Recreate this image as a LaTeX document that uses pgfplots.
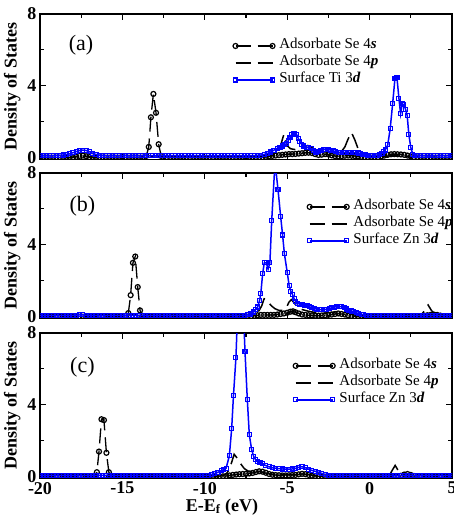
\documentclass[border=0pt]{standalone}
\usepackage{fontspec}
\setmainfont{Liberation Serif}
\usepackage{pgfplots}
\pgfplotsset{compat=1.18}
\pgfplotsset{
  dos/.style={
    scale only axis, width=412pt, height=145.5pt,
    xmin=-20, xmax=5, ymin=-0.1, ymax=8,
    xtick={-20,-15,-10,-5,0,5},
    minor xtick={-17.5,-12.5,-7.5,-2.5,2.5},
    ytick={0,4,8}, yticklabels={0,4,8},
    minor ytick={2,6},
    tick align=inside,
    major tick length=6pt, minor tick length=4pt,
    tick style={black, line width=1.1pt},
    axis line style={line width=1.6pt},
    tick label style={font=\fontsize{18}{18}\selectfont\bfseries},
    ylabel={Density of States},
    ylabel style={font=\fontsize{18}{18}\selectfont\bfseries},
    clip marker paths=true,
    legend style={draw=none, fill=none, inner sep=0pt, font=\fontsize{15}{15}\selectfont, anchor=north west,
      nodes={inner sep=1pt, text height=10.5pt, text depth=4.5pt}},
    legend cell align=left,
    legend image code/.code={\draw[##1] plot coordinates {(0pt,0pt) (37pt,0pt)}; \path (42pt,0pt);},
  },
  ses/.style={black, line width=1.3pt, dash pattern=on 15pt off 7pt, mark=o, mark size=2.5pt, mark options={solid, line width=1.2pt}},
  sep/.style={black, line width=1.5pt, dash pattern=on 15pt off 7pt},
  znd/.style={blue, line width=1.5pt, mark=square, mark size=2pt, mark options={solid, line width=1.1pt}},
}
\begin{document}
\begin{tikzpicture}
%%%%%%%%%%%%%%%%%%%% (a)
\begin{axis}[dos, at={(0pt,0pt)}, anchor=north west, xticklabels={},
  legend style={at={(0.468,0.840)}}]
\addplot[ses] coordinates {(-20,0)(-19.8,0)(-19.6,0)(-19.4,0)(-19.2,0)(-19,0)(-18.8,0)(-18.6,0)(-18.4,0)(-18.2,0)(-18,0.02)(-17.8,0.05)(-17.6,0.1)(-17.4,0.12)(-17.2,0.08)(-17,0.03)(-16.8,0)(-16.6,0)(-16.4,0)(-16.2,0)(-16,0)(-15.8,0)(-15.6,0)(-15.4,0)(-15.2,0)(-15,0)(-14.8,0)(-14.6,0)(-14.4,0)(-14.2,0)(-14,0)(-13.8,0)(-13.67,0.02)(-13.55,0.1)(-13.4,0.6)(-13.27,2.25)(-13.12,3.55)(-12.96,2.5)(-12.8,0.75)(-12.65,0.1)(-12.5,0.02)(-12.3,0)(-12.1,0)(-11.9,0)(-11.7,0)(-11.5,0)(-11.3,0)(-11.1,0)(-10.9,0)(-10.7,0)(-10.5,0)(-10.3,0)(-10.1,0)(-9.9,0)(-9.7,0)(-9.5,0)(-9.3,0)(-9.1,0)(-8.9,0)(-8.7,0)(-8.5,0)(-8.3,0)(-8.1,0)(-7.9,0)(-7.7,0)(-7.5,0)(-7.3,0)(-7.1,0)(-6.9,0)(-6.7,0.01)(-6.5,0.03)(-6.3,0.05)(-6.1,0.08)(-5.9,0.1)(-5.7,0.12)(-5.5,0.14)(-5.3,0.16)(-5.1,0.18)(-4.9,0.2)(-4.7,0.2)(-4.5,0.21)(-4.3,0.23)(-4.1,0.25)(-3.9,0.27)(-3.7,0.28)(-3.5,0.26)(-3.3,0.2)(-3.1,0.15)(-2.9,0.17)(-2.7,0.2)(-2.5,0.18)(-2.3,0.13)(-2.1,0.09)(-1.9,0.08)(-1.7,0.09)(-1.5,0.11)(-1.3,0.12)(-1.1,0.11)(-0.9,0.09)(-0.7,0.07)(-0.5,0.05)(-0.3,0.03)(-0.1,0.01)(0.1,0)(0.3,0.01)(0.5,0.03)(0.7,0.07)(0.9,0.12)(1.1,0.16)(1.3,0.19)(1.5,0.2)(1.7,0.19)(1.9,0.18)(2.1,0.16)(2.3,0.12)(2.5,0.07)(2.7,0.03)(2.9,0.01)(3.1,0)(3.3,0)(3.5,0)(3.7,0)(3.9,0)(4.1,0)(4.3,0)(4.5,0)(4.7,0)(4.9,0)(5,0)};
\addplot[sep] coordinates {(-20,0.02)(-18.2,0.02)(-17.7,0.07)(-17.4,0.1)(-17.1,0.06)(-16.6,0.02)(-13.8,0.02)(-13.3,0.06)(-12.8,0.02)(-6.6,0.02)(-6.2,0.06)(-5.85,0.15)(-5.6,0.3)(-5.42,0.6)(-5.3,1.0)(-5.2,1.3)(-5.1,0.95)(-4.98,0.65)(-4.8,0.5)(-4.5,0.45)(-4.2,0.5)(-3.95,0.62)(-3.75,0.68)(-3.55,0.6)(-3.35,0.45)(-3.1,0.3)(-2.8,0.35)(-2.5,0.3)(-2.2,0.22)(-1.9,0.25)(-1.7,0.35)(-1.5,0.6)(-1.3,1.05)(-1.1,1.4)(-0.9,1.0)(-0.7,0.5)(-0.5,0.25)(-0.3,0.12)(0,0.05)(0.6,0.05)(1.2,0.1)(1.8,0.12)(2.4,0.08)(3,0.03)(5,0.02)};
\addplot[znd] coordinates {(-20,0.12)(-19.8,0.12)(-19.6,0.12)(-19.4,0.12)(-19.2,0.12)(-19,0.12)(-18.8,0.13)(-18.6,0.15)(-18.4,0.18)(-18.2,0.22)(-18,0.28)(-17.8,0.34)(-17.6,0.4)(-17.4,0.42)(-17.2,0.4)(-17,0.33)(-16.8,0.25)(-16.6,0.18)(-16.4,0.14)(-16.2,0.12)(-16,0.12)(-15.8,0.12)(-15.6,0.12)(-15.4,0.12)(-15.2,0.12)(-15,0.12)(-14.8,0.12)(-14.6,0.12)(-14.4,0.12)(-14.2,0.12)(-14,0.12)(-13.8,0.12)(-13.6,0.12)(-13.4,0.12)(-13.2,0.12)(-13,0.12)(-12.8,0.12)(-12.6,0.12)(-12.4,0.12)(-12.2,0.12)(-12,0.12)(-11.8,0.12)(-11.6,0.12)(-11.4,0.12)(-11.2,0.12)(-11,0.12)(-10.8,0.12)(-10.6,0.12)(-10.4,0.12)(-10.2,0.12)(-10,0.12)(-9.8,0.12)(-9.6,0.12)(-9.4,0.12)(-9.2,0.12)(-9,0.12)(-8.8,0.12)(-8.6,0.12)(-8.4,0.12)(-8.2,0.12)(-8,0.12)(-7.8,0.12)(-7.6,0.12)(-7.4,0.12)(-7.2,0.12)(-7,0.12)(-6.8,0.13)(-6.6,0.14)(-6.4,0.18)(-6.2,0.24)(-6,0.32)(-5.8,0.42)(-5.6,0.52)(-5.44,0.58)(-5.3,0.65)(-5.16,0.72)(-5.03,0.78)(-4.93,0.97)(-4.83,1.1)(-4.73,1.3)(-4.63,1.36)(-4.53,1.36)(-4.43,1.3)(-4.33,1.08)(-4.23,0.9)(-4.13,0.75)(-4,0.65)(-3.85,0.58)(-3.7,0.55)(-3.55,0.5)(-3.4,0.4)(-3.25,0.32)(-3.1,0.35)(-2.95,0.42)(-2.8,0.47)(-2.65,0.48)(-2.5,0.46)(-2.35,0.42)(-2.2,0.38)(-2.05,0.33)(-1.9,0.3)(-1.75,0.3)(-1.6,0.3)(-1.45,0.3)(-1.3,0.3)(-1.15,0.3)(-1,0.29)(-0.85,0.28)(-0.7,0.26)(-0.55,0.24)(-0.4,0.2)(-0.25,0.16)(-0.1,0.13)(0.05,0.12)(0.2,0.12)(0.35,0.12)(0.5,0.14)(0.62,0.18)(0.75,0.25)(0.85,0.33)(0.95,0.43)(1.1,0.71)(1.25,1.62)(1.4,3.03)(1.54,4.43)(1.66,4.45)(1.78,3.3)(1.88,2.45)(1.98,3)(2.08,2.95)(2.18,2.7)(2.28,2.35)(2.38,1.3)(2.5,0.56)(2.62,0.2)(2.75,0.13)(2.9,0.12)(3.1,0.12)(3.3,0.12)(3.5,0.12)(3.7,0.12)(3.9,0.12)(4.1,0.12)(4.3,0.12)(4.5,0.12)(4.7,0.12)(4.9,0.12)(5,0.12)};
\legend{Adsorbate Se 4\textbf{\textit{s}}, Adsorbate Se 4\textbf{\textit{p}}, Surface Ti 3\textbf{\textit{d}}}
\node[font=\fontsize{22}{22}\selectfont] at (rel axis cs:0.0995,0.787) {(a)};
\end{axis}
%%%%%%%%%%%%%%%%%%%% (b)
\begin{axis}[dos, at={(0pt,-159pt)}, anchor=north west, xticklabels={},
  legend style={at={(0.648,0.827)}}]
\addplot[ses] coordinates {(-20,0)(-19.8,0)(-19.6,0)(-19.4,0)(-19.2,0)(-19,0)(-18.8,0)(-18.6,0)(-18.4,0)(-18.2,0)(-18,0)(-17.8,0)(-17.6,0)(-17.4,0)(-17.2,0)(-17,0)(-16.8,0)(-16.6,0)(-16.4,0)(-16.2,0)(-16,0)(-15.8,0)(-15.6,0)(-15.4,0)(-15.2,0)(-15,0)(-14.78,0.05)(-14.64,0.2)(-14.5,1.2)(-14.36,3)(-14.22,3.35)(-14.07,1.65)(-13.93,0.35)(-13.79,0.05)(-13.6,0)(-13.4,0)(-13.2,0)(-13,0)(-12.8,0)(-12.6,0)(-12.4,0)(-12.2,0)(-12,0)(-11.8,0)(-11.6,0)(-11.4,0)(-11.2,0)(-11,0)(-10.8,0)(-10.6,0)(-10.4,0)(-10.2,0)(-10,0)(-9.8,0)(-9.6,0)(-9.4,0)(-9.2,0)(-9,0)(-8.8,0)(-8.6,0)(-8.4,0)(-8.2,0)(-8,0)(-7.8,0)(-7.6,0)(-7.4,0)(-7.2,0.02)(-7,0.05)(-6.8,0.08)(-6.6,0.1)(-6.4,0.1)(-6.2,0.1)(-6,0.1)(-5.8,0.1)(-5.6,0.12)(-5.4,0.15)(-5.2,0.18)(-5,0.22)(-4.8,0.28)(-4.65,0.3)(-4.5,0.25)(-4.3,0.18)(-4.1,0.12)(-3.9,0.1)(-3.7,0.08)(-3.5,0.07)(-3.3,0.06)(-3.1,0.06)(-2.9,0.07)(-2.7,0.08)(-2.5,0.1)(-2.3,0.12)(-2.1,0.15)(-1.9,0.18)(-1.7,0.15)(-1.5,0.12)(-1.3,0.08)(-1.1,0.05)(-0.9,0.03)(-0.7,0.01)(-0.5,0)(-0.3,0)(-0.1,0)(0.1,0)(0.3,0)(0.5,0)(0.7,0)(0.9,0)(1.1,0)(1.3,0)(1.5,0)(1.7,0)(1.9,0)(2.1,0)(2.3,0)(2.5,0)(2.7,0)(2.9,0)(3.1,0.03)(3.3,0.06)(3.5,0.08)(3.7,0.1)(3.9,0.12)(4.1,0.1)(4.3,0.06)(4.5,0.03)(4.7,0)(4.9,0)(5,0)};
\addplot[sep] coordinates {(-20,0.02)(-15,0.02)(-14.5,0.08)(-14.25,0.12)(-14,0.05)(-13.6,0.02)(-7.4,0.02)(-7.1,0.08)(-6.85,0.2)(-6.7,0.35)(-6.55,0.6)(-6.4,1)(-6.25,0.95)(-6.1,0.75)(-5.95,0.6)(-5.75,0.45)(-5.5,0.35)(-5.25,0.35)(-5.05,0.5)(-4.9,0.8)(-4.75,0.95)(-4.6,0.8)(-4.4,0.55)(-4.1,0.4)(-3.7,0.3)(-3.2,0.22)(-2.7,0.2)(-2.2,0.25)(-1.8,0.3)(-1.4,0.22)(-1,0.12)(-0.6,0.05)(0,0.02)(2.8,0.03)(3.15,0.12)(3.35,0.35)(3.55,0.65)(3.75,0.35)(3.95,0.15)(4.3,0.12)(4.7,0.05)(5,0.03)};
\addplot[znd] coordinates {(-20,0.08)(-19.8,0.08)(-19.6,0.08)(-19.4,0.08)(-19.2,0.08)(-19,0.08)(-18.8,0.08)(-18.6,0.08)(-18.4,0.08)(-18.2,0.08)(-18,0.08)(-17.8,0.09)(-17.6,0.1)(-17.4,0.1)(-17.2,0.09)(-17,0.08)(-16.8,0.08)(-16.6,0.08)(-16.4,0.08)(-16.2,0.08)(-16,0.08)(-15.8,0.08)(-15.6,0.08)(-15.4,0.08)(-15.2,0.08)(-15,0.08)(-14.8,0.08)(-14.6,0.08)(-14.4,0.08)(-14.2,0.08)(-14,0.08)(-13.8,0.08)(-13.6,0.08)(-13.4,0.08)(-13.2,0.08)(-13,0.08)(-12.8,0.08)(-12.6,0.08)(-12.4,0.08)(-12.2,0.08)(-12,0.08)(-11.8,0.08)(-11.6,0.08)(-11.4,0.08)(-11.2,0.08)(-11,0.08)(-10.8,0.08)(-10.6,0.08)(-10.4,0.08)(-10.2,0.08)(-10,0.08)(-9.8,0.08)(-9.6,0.08)(-9.4,0.08)(-9.2,0.08)(-9,0.08)(-8.8,0.08)(-8.6,0.08)(-8.4,0.08)(-8.2,0.08)(-8,0.08)(-7.8,0.08)(-7.6,0.08)(-7.4,0.1)(-7.2,0.15)(-7.06,0.26)(-6.92,0.4)(-6.79,0.54)(-6.68,0.9)(-6.6,1.3)(-6.49,2.4)(-6.39,3)(-6.27,3)(-6.16,2.65)(-6.05,3)(-5.94,5.35)(-5.74,8.6)(-5.56,7.1)(-5.4,5.6)(-5.28,4.55)(-5.17,3.5)(-5,2.48)(-4.88,1.72)(-4.78,1.42)(-4.68,1.24)(-4.58,1)(-4.48,0.85)(-4.38,0.75)(-4.25,0.7)(-4.1,0.66)(-3.95,0.62)(-3.8,0.6)(-3.65,0.55)(-3.5,0.5)(-3.35,0.45)(-3.2,0.42)(-3.05,0.4)(-2.9,0.4)(-2.75,0.4)(-2.6,0.42)(-2.45,0.45)(-2.3,0.5)(-2.15,0.53)(-2,0.56)(-1.85,0.58)(-1.7,0.55)(-1.55,0.5)(-1.4,0.43)(-1.25,0.37)(-1.1,0.32)(-0.95,0.27)(-0.8,0.22)(-0.65,0.17)(-0.5,0.13)(-0.35,0.1)(-0.2,0.08)(0,0.08)(0.2,0.08)(0.4,0.08)(0.6,0.08)(0.8,0.08)(1,0.08)(1.2,0.08)(1.4,0.08)(1.6,0.08)(1.8,0.08)(2,0.08)(2.2,0.08)(2.4,0.08)(2.6,0.08)(2.8,0.08)(3,0.08)(3.2,0.08)(3.4,0.08)(3.6,0.08)(3.8,0.08)(4,0.08)(4.2,0.08)(4.4,0.08)(4.6,0.08)(4.8,0.08)(5,0.08)};
\legend{Adsorbate Se 4\textbf{\textit{s}}, Adsorbate Se 4\textbf{\textit{p}}, Surface Zn 3\textbf{\textit{d}}}
\node[font=\fontsize{22}{22}\selectfont] at (rel axis cs:0.103,0.773) {(b)};
\end{axis}
%%%%%%%%%%%%%%%%%%%% (c)
\begin{axis}[dos, at={(0pt,-319pt)}, anchor=north west,
  xticklabels={-20,-15,-10,-5,0,5},
  xlabel={E-E\textsubscript{f} (eV)},
  xlabel style={font=\fontsize{18}{18}\selectfont\bfseries, xshift=-24pt, yshift=2.5pt},
  legend style={at={(0.614,0.834)}}]
\addplot[ses] coordinates {(-20,0)(-19.8,0)(-19.6,0)(-19.4,0)(-19.2,0)(-19,0)(-18.8,0)(-18.6,0)(-18.4,0)(-18.2,0)(-18,0)(-17.8,0)(-17.6,0)(-17.4,0)(-17.2,0)(-17,0)(-16.8,0)(-16.7,0.05)(-16.55,0.25)(-16.42,1.4)(-16.27,3.2)(-16.12,3.15)(-15.97,1.33)(-15.82,0.25)(-15.68,0.05)(-15.5,0)(-15.3,0)(-15.1,0)(-14.9,0)(-14.7,0)(-14.5,0)(-14.3,0)(-14.1,0)(-13.9,0)(-13.7,0)(-13.5,0)(-13.3,0)(-13.1,0)(-12.9,0)(-12.7,0)(-12.5,0)(-12.3,0)(-12.1,0)(-11.9,0)(-11.7,0)(-11.5,0)(-11.3,0)(-11.1,0)(-10.9,0)(-10.7,0)(-10.5,0)(-10.3,0)(-10.1,0)(-9.9,0)(-9.7,0)(-9.5,0)(-9.3,0)(-9.1,0)(-8.9,0.02)(-8.7,0.04)(-8.5,0.07)(-8.3,0.1)(-8.1,0.12)(-7.9,0.14)(-7.7,0.15)(-7.5,0.16)(-7.3,0.18)(-7.1,0.21)(-6.9,0.26)(-6.7,0.3)(-6.5,0.28)(-6.3,0.22)(-6.1,0.15)(-5.9,0.11)(-5.7,0.09)(-5.5,0.08)(-5.3,0.07)(-5.1,0.07)(-4.9,0.08)(-4.7,0.09)(-4.5,0.1)(-4.3,0.13)(-4.1,0.16)(-3.9,0.14)(-3.7,0.1)(-3.5,0.06)(-3.3,0.04)(-3.1,0.02)(-2.9,0.01)(-2.7,0)(-2.5,0)(-2.3,0)(-2.1,0)(-1.9,0)(-1.7,0)(-1.5,0)(-1.3,0)(-1.1,0)(-0.9,0)(-0.7,0)(-0.5,0)(-0.3,0)(-0.1,0)(0.1,0)(0.3,0)(0.5,0)(0.7,0)(0.9,0)(1.1,0)(1.3,0)(1.5,0)(1.7,0)(1.9,0.05)(2.1,0.12)(2.3,0.15)(2.5,0.1)(2.7,0.04)(2.9,0)(3.1,0)(3.3,0)(3.5,0)(3.7,0)(3.9,0)(4.1,0)(4.3,0)(4.5,0)(4.7,0)(4.9,0)(5,0)};
\addplot[sep] coordinates {(-20,0.02)(-16.7,0.02)(-16.3,0.1)(-15.9,0.02)(-9.2,0.02)(-8.9,0.08)(-8.7,0.15)(-8.52,0.4)(-8.37,0.8)(-8.22,1.25)(-8.05,1.05)(-7.85,0.75)(-7.6,0.45)(-7.35,0.3)(-7.1,0.25)(-6.85,0.3)(-6.6,0.28)(-6.3,0.2)(-6,0.15)(-5.5,0.12)(-5,0.1)(-4.5,0.12)(-4.1,0.15)(-3.6,0.1)(-3,0.05)(-2.5,0.02)(1,0.03)(1.25,0.15)(1.4,0.4)(1.55,0.63)(1.7,0.4)(1.85,0.2)(2.1,0.15)(2.4,0.1)(2.8,0.05)(3.2,0.02)(5,0.02)};
\addplot[znd] coordinates {(-20,0.08)(-19.8,0.08)(-19.6,0.08)(-19.4,0.08)(-19.2,0.08)(-19,0.08)(-18.8,0.08)(-18.6,0.08)(-18.4,0.08)(-18.2,0.08)(-18,0.08)(-17.8,0.08)(-17.6,0.08)(-17.4,0.08)(-17.2,0.08)(-17,0.08)(-16.8,0.08)(-16.6,0.08)(-16.4,0.08)(-16.2,0.08)(-16,0.08)(-15.8,0.08)(-15.6,0.08)(-15.4,0.08)(-15.2,0.08)(-15,0.08)(-14.8,0.08)(-14.6,0.08)(-14.4,0.08)(-14.2,0.08)(-14,0.08)(-13.8,0.08)(-13.6,0.08)(-13.4,0.08)(-13.2,0.08)(-13,0.08)(-12.8,0.08)(-12.6,0.08)(-12.4,0.08)(-12.2,0.08)(-12,0.08)(-11.8,0.08)(-11.6,0.08)(-11.4,0.08)(-11.2,0.08)(-11,0.08)(-10.8,0.08)(-10.6,0.08)(-10.4,0.08)(-10.2,0.08)(-10,0.08)(-9.8,0.08)(-9.6,0.12)(-9.4,0.18)(-9.2,0.25)(-9,0.33)(-8.85,0.4)(-8.71,0.47)(-8.51,1.16)(-8.37,2.67)(-8.26,4.53)(-8.11,6.63)(-7.96,10.5)(-7.83,12)(-7.7,10.2)(-7.56,6.95)(-7.42,4.29)(-7.3,2.34)(-7.16,1.52)(-7.04,1.14)(-6.92,0.95)(-6.8,0.85)(-6.65,0.78)(-6.5,0.72)(-6.3,0.62)(-6.1,0.55)(-5.9,0.5)(-5.7,0.47)(-5.5,0.45)(-5.3,0.43)(-5.1,0.42)(-4.9,0.42)(-4.7,0.43)(-4.5,0.46)(-4.3,0.52)(-4.1,0.56)(-3.9,0.5)(-3.7,0.42)(-3.5,0.35)(-3.3,0.3)(-3.1,0.25)(-2.9,0.18)(-2.7,0.12)(-2.5,0.09)(-2.3,0.08)(-2.1,0.08)(-1.9,0.08)(-1.7,0.08)(-1.5,0.08)(-1.3,0.08)(-1.1,0.08)(-0.9,0.08)(-0.7,0.08)(-0.5,0.08)(-0.3,0.08)(-0.1,0.08)(0.1,0.08)(0.3,0.08)(0.5,0.08)(0.7,0.08)(0.9,0.08)(1.1,0.08)(1.3,0.08)(1.5,0.08)(1.7,0.08)(1.9,0.08)(2.1,0.08)(2.3,0.08)(2.5,0.08)(2.7,0.08)(2.9,0.08)(3.1,0.08)(3.3,0.08)(3.5,0.08)(3.7,0.08)(3.9,0.08)(4.1,0.08)(4.3,0.08)(4.5,0.08)(4.7,0.08)(4.9,0.08)(5,0.08)};
\legend{Adsorbate Se 4\textbf{\textit{s}}, Adsorbate Se 4\textbf{\textit{p}}, Surface Zn 3\textbf{\textit{d}}}
\node[font=\fontsize{22}{22}\selectfont] at (rel axis cs:0.103,0.765) {(c)};
\end{axis}
\pgfresetboundingbox
\path (-40pt,14pt) rectangle (413pt,-502pt);
\end{tikzpicture}
\end{document}
